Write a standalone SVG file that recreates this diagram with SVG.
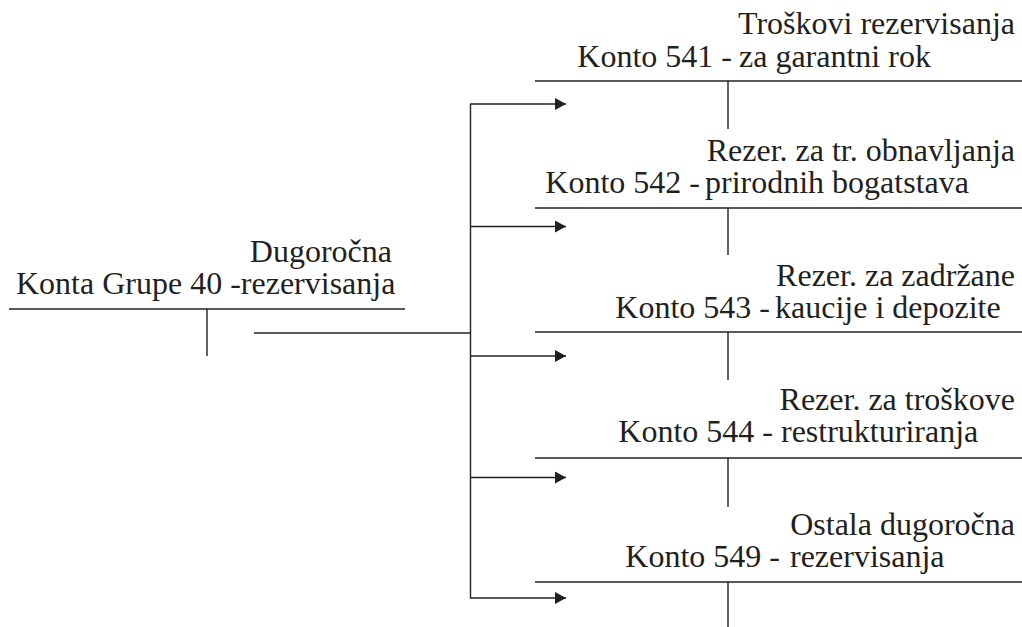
<svg xmlns="http://www.w3.org/2000/svg" width="1022" height="627" viewBox="0 0 1022 627">
  <style>
    .t { font-size: 32px; fill: #231f20; }
    .e { text-anchor: end; }
    .ln { stroke: #231f20; stroke-width: 1.4; fill: none; }
  </style>
  <defs>
    <marker id="arrow" viewBox="0 0 11 12" refX="11" refY="6" markerWidth="11" markerHeight="12" markerUnits="userSpaceOnUse" orient="auto">
      <path d="M0,0 L11,6 L0,12 Z" fill="#231f20"/>
    </marker>
  </defs>
  <rect width="1022" height="627" fill="#ffffff"/>

  <g font-family="Liberation Serif, Tinos, DejaVu Serif, serif">
  <!-- Group 40: T-account -->
  <g id="konta-grupe-40">
    <text class="t e" x="392" y="262">Dugoročna</text>
    <text class="t" x="16" y="294">Konta Grupe 40 -rezervisanja</text>
    <line class="ln" x1="9" y1="309" x2="405" y2="309"/>
    <line class="ln" x1="207" y1="309" x2="207" y2="356"/>
  </g>

  <!-- Account 541 -->
  <g id="konto-541">
    <text class="t e" x="1015" y="34">Troškovi rezervisanja</text>
    <text class="t e" x="732" y="67">Konto 541 -</text>
    <text class="t" x="739" y="67">za garantni rok</text>
    <line class="ln" x1="535" y1="81" x2="1022" y2="81"/>
    <line class="ln" x1="728" y1="81" x2="728" y2="129"/>
  </g>

  <!-- Account 542 -->
  <g id="konto-542">
    <text class="t e" x="1015" y="161">Rezer. za tr. obnavljanja</text>
    <text class="t e" x="700" y="193">Konto 542 -</text>
    <text class="t" x="705" y="193">prirodnih bogatstava</text>
    <line class="ln" x1="535" y1="208" x2="1022" y2="208"/>
    <line class="ln" x1="728" y1="208" x2="728" y2="255"/>
  </g>

  <!-- Account 543 -->
  <g id="konto-543">
    <text class="t e" x="1015" y="286">Rezer. za zadržane</text>
    <text class="t e" x="770" y="318">Konto 543 -</text>
    <text class="t" x="775" y="318">kaucije i depozite</text>
    <line class="ln" x1="535" y1="332" x2="1022" y2="332"/>
    <line class="ln" x1="728" y1="332" x2="728" y2="380"/>
  </g>

  <!-- Account 544 -->
  <g id="konto-544">
    <text class="t e" x="1015" y="410">Rezer. za troškove</text>
    <text class="t e" x="773" y="442">Konto 544 -</text>
    <text class="t" x="781" y="442">restrukturiranja</text>
    <line class="ln" x1="535" y1="458" x2="1022" y2="458"/>
    <line class="ln" x1="728" y1="458" x2="728" y2="507"/>
  </g>

  <!-- Account 549 -->
  <g id="konto-549">
    <text class="t e" x="1015" y="535">Ostala dugoročna</text>
    <text class="t e" x="780" y="567">Konto 549 -</text>
    <text class="t" x="790" y="567">rezervisanja</text>
    <line class="ln" x1="535" y1="582" x2="1022" y2="582"/>
    <line class="ln" x1="728" y1="582" x2="728" y2="627"/>
  </g>
  </g>

  <!-- Connectors: trunk from group 40 branching to each account -->
  <g id="connectors">
    <line class="ln" x1="254" y1="333" x2="470.5" y2="333"/>
    <line class="ln" x1="470.5" y1="103.5" x2="470.5" y2="598.5"/>
    <line class="ln" x1="470.5" y1="104" x2="566" y2="104" marker-end="url(#arrow)"/>
    <line class="ln" x1="470.5" y1="226.5" x2="566" y2="226.5" marker-end="url(#arrow)"/>
    <line class="ln" x1="470.5" y1="356" x2="566" y2="356" marker-end="url(#arrow)"/>
    <line class="ln" x1="470.5" y1="477.5" x2="566" y2="477.5" marker-end="url(#arrow)"/>
    <line class="ln" x1="470.5" y1="598" x2="566" y2="598" marker-end="url(#arrow)"/>
  </g>
</svg>
